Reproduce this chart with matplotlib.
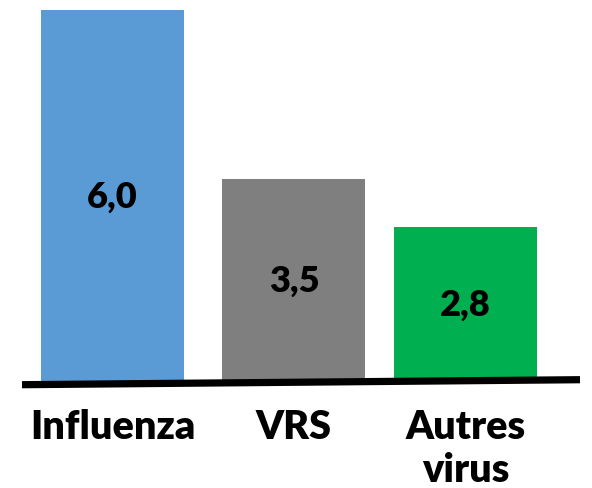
import matplotlib
matplotlib.use("Agg")
import matplotlib.pyplot as plt
from matplotlib.lines import Line2D

categories = ["Influenza", "VRS", "Autres\nvirus"]
values = [6.0, 3.5, 2.8]
value_labels = ["6,0", "3,5", "2,8"]
colors = ["#5B9BD5", "#7F7F7F", "#00B050"]

W, H = 592, 489
fig = plt.figure(figsize=(W / 100, H / 100), dpi=100)
plt.rcParams['font.family'] = ['Lato', 'DejaVu Sans']

# axes spans pixels x 22..580, y 10..383 (from top)
ax = fig.add_axes([22 / W, (H - 383) / H, (580 - 22) / W, (383 - 10) / H])
ymin, ymax = 0.51, 6.01
ax.set_ylim(ymin, ymax)
ax.set_xlim(-0.513, 2.649)
xpos = [0, 1.028, 2]
ax.bar(xpos, values, width=0.81, color=colors, bottom=0)
for x, v, lab in zip(xpos, values, value_labels):
    ax.text(x, (ymin + v) / 2, lab, ha="center", va="center",
            fontsize=26, fontweight="heavy", color="black")
ax.set_xticks(xpos)
ax.set_xticklabels(categories, fontsize=28.5, fontweight="heavy",
                   linespacing=1.2, va="top")
ax.tick_params(axis="x", length=0, pad=19)
ax.set_yticks([])
for s in ax.spines.values():
    s.set_visible(False)

# slightly tilted baseline
fig.add_artist(Line2D([22 / W, 580 / W], [(H - 385.7) / H, (H - 380.7) / H],
                      transform=fig.transFigure, color="black", lw=5.2,
                      solid_capstyle="butt"))

fig.savefig("out.png", dpi=100)
